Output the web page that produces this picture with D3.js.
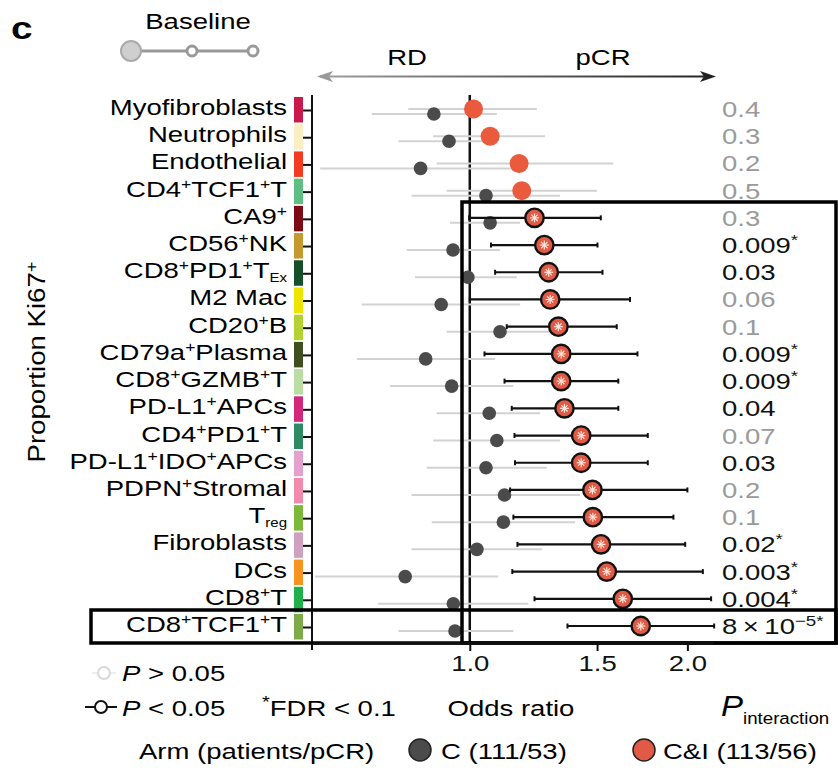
<!DOCTYPE html>
<html>
<head>
<meta charset="utf-8">
<script src="https://cdnjs.cloudflare.com/ajax/libs/d3/7.8.5/d3.min.js"></script>
<style>
  body { margin: 0; background: #fff; }
  svg { font-family: "Liberation Sans", Arial, Helvetica, sans-serif; }
</style>
</head>
<body>
<div class="chart_frame"></div>
<script>
// cell types, top to bottom (^{..} superscript, _{..} subscript)
var cellTypes = ["Myofibroblasts", "Neutrophils", "Endothelial", "CD4^{+}TCF1^{+}T", "CA9^{+}",
    "CD56^{+}NK", "CD8^{+}PD1^{+}T_{Ex}", "M2 Mac", "CD20^{+}B", "CD79a^{+}Plasma",
    "CD8^{+}GZMB^{+}T", "PD-L1^{+}APCs", "CD4^{+}PD1^{+}T", "PD-L1^{+}IDO^{+}APCs", "PDPN^{+}Stromal",
    "T_{reg}", "Fibroblasts", "DCs", "CD8^{+}T", "CD8^{+}TCF1^{+}T"];

var cellColors = ["#c81a4c", "#fbeec4", "#f23b20", "#5fbf82", "#7d0b16",
    "#c4992e", "#15502b", "#efe300", "#b4d232", "#3f4f1f",
    "#bbdca2", "#d2287b", "#2d8a64", "#e2a2cd", "#f08bae",
    "#7db83b", "#cfa1c1", "#f7931f", "#1fb04b", "#7eaa49"];

// C&I arm odds ratios with 95% CI
var ciOR   = [1.012, 1.067, 1.170, 1.180, 1.229, 1.268, 1.286, 1.292, 1.326, 1.338,
              1.338, 1.352, 1.426, 1.426, 1.478, 1.480, 1.519, 1.547, 1.628, 1.724];
var ciLow  = [0.822, 0.890, 0.900, 0.929, 0.998, 1.070, 1.084, 1.000, 1.125, 1.048,
              1.117, 1.143, 1.153, 1.155, 1.137, 1.149, 1.164, 1.145, 1.229, 1.365];
var ciHigh = [1.238, 1.271, 1.580, 1.499, 1.518, 1.502, 1.526, 1.666, 1.597, 1.706,
              1.605, 1.605, 1.763, 1.763, 2.000, 1.913, 1.986, 2.101, 2.157, 2.178];
var ciSig  = [false, false, false, false, true, true, true, true, true, true,
              true, true, true, true, true, true, true, true, true, true];

// C arm odds ratios with 95% CI
var cOR   = [0.892, 0.936, 0.855, 1.053, 1.067, 0.948, 0.994, 0.913, 1.101, 0.869,
             0.944, 1.064, 1.090, 1.053, 1.117, 1.113, 1.023, 0.814, 0.949, 0.954];
var cLow  = [0.732, 0.797, 0.621, 0.831, 0.939, 0.818, 0.840, 0.709, 0.929, 0.698,
             0.776, 0.900, 0.890, 0.872, 0.831, 0.886, 0.831, 0.611, 0.747, 0.797];
var cHigh = [1.090, 1.087, 1.148, 1.333, 1.174, 1.101, 1.162, 1.174, 1.290, 1.084,
             1.149, 1.251, 1.333, 1.278, 1.421, 1.399, 1.258, 1.095, 1.205, 1.149];

// interaction p values
var pValues = [0.4, 0.3, 0.2, 0.5, 0.3, 0.009, 0.03, 0.06, 0.1, 0.009,
               0.009, 0.04, 0.07, 0.03, 0.2, 0.1, 0.02, 0.003, 0.004, 0.00008];
var pText   = ["0.4", "0.3", "0.2", "0.5", "0.3", "0.009^{*}", "0.03", "0.06", "0.1", "0.009^{*}",
               "0.009^{*}", "0.04", "0.07", "0.03", "0.2", "0.1", "0.02^{*}", "0.003^{*}", "0.004^{*}", "8\u2009\u00d7\u200910^{\u22125*}"];

var xTicks = [1, 1.5, 2];

var SX = 1.25, FS = 22;
var red = "#e05a45", redLight = "#ea5a3d", dark = "#4b4b4b";

var svg = d3.select('.chart_frame').append('svg')
    .attr('width', 838)
    .attr('height', 770);

var x = d3.scaleLog().domain([0.605, 2.17]).range([312, 713]);
var y = d3.scalePoint().domain(d3.range(cellTypes.length)).range([110, 627]);

// text with a wide, Helvetica-like look
function addText(parent, tx, ty, anchor, size, sx) {
    return parent.append('text')
        .attr('transform', 'translate(' + tx + ',' + ty + ') scale(' + (sx || SX) + ',1)')
        .attr('text-anchor', anchor || 'start')
        .attr('font-size', size || FS);
}

function richText(t, str, size, small) {
    var re = /(\^|_)\{([^}]*)\}|([^^_]+)/g, m, off = 0;
    small = small || 14;
    while ((m = re.exec(str)) !== null) {
        var target = 0, fs = size, s = m[3];
        if (m[1] === '^') { target = -8; fs = small; s = m[2]; }
        if (m[1] === '_') { target = 4; fs = 12; s = m[2]; }
        t.append('tspan').attr('dy', target - off).attr('font-size', fs).text(s);
        off = target;
    }
    return t;
}

// panel letter and baseline legend
addText(svg, 11, 39, 'start', 31).attr('font-weight', 'bold').text('c');
addText(svg, 198, 29, 'middle').text('Baseline');
svg.append('line').attr('x1', 131).attr('x2', 253).attr('y1', 51).attr('y2', 51)
    .attr('stroke', '#999').attr('stroke-width', 3);
svg.append('circle').attr('cx', 131).attr('cy', 51).attr('r', 10)
    .attr('fill', '#cfcfcf').attr('stroke', '#aaa').attr('stroke-width', 2);
[192, 253].forEach(function(cx) {
    svg.append('circle').attr('cx', cx).attr('cy', 51).attr('r', 5)
        .attr('fill', '#fff').attr('stroke', '#999').attr('stroke-width', 3);
});

// RD <-> pCR arrow
var defs = svg.append('defs');
var grad = defs.append('linearGradient').attr('id', 'arrowGrad')
    .attr('gradientUnits', 'userSpaceOnUse').attr('x1', 317).attr('x2', 715).attr('y1', 0).attr('y2', 0);
grad.append('stop').attr('offset', 0).attr('stop-color', '#a0a0a0');
grad.append('stop').attr('offset', 1).attr('stop-color', '#222');
svg.append('line').attr('x1', 320).attr('x2', 712).attr('y1', 76.5).attr('y2', 76.5)
    .attr('stroke', 'url(#arrowGrad)').attr('stroke-width', 2);
svg.append('path').attr('d', 'M317,76.5 L333,71 L329,76.5 L333,82 Z').attr('fill', '#9a9a9a');
svg.append('path').attr('d', 'M716,76.5 L700,71 L704,76.5 L700,82 Z').attr('fill', '#222');
addText(svg, 407, 65, 'middle').text('RD');
addText(svg, 603, 65, 'middle').text('pCR');

// colour strip
svg.append('g').selectAll('rect').data(cellColors).join('rect')
    .attr('x', 294).attr('width', 9)
    .attr('y', function(d, i) { return y(i) - 13; })
    .attr('height', 25.5)
    .attr('fill', function(d) { return d; });

// y axis ticks and spine
var yAxis = svg.append('g').attr('transform', 'translate(312,0)')
    .call(d3.axisLeft(y).tickSize(9).tickFormat(''));
yAxis.select('.domain').remove();
yAxis.selectAll('line').attr('stroke', '#111').attr('stroke-width', 2);
svg.append('line').attr('x1', 312).attr('x2', 312).attr('y1', 95).attr('y2', 650)
    .attr('stroke', '#111').attr('stroke-width', 2);

// row labels
cellTypes.forEach(function(lab, i) {
    richText(addText(svg, 287, y(i) + 5, 'end'), lab, FS);
});

// reference line at OR = 1
svg.append('line').attr('x1', x(1)).attr('x2', x(1)).attr('y1', 95).attr('y2', 643)
    .attr('stroke', '#111').attr('stroke-width', 2.5);

var rows = d3.range(cellTypes.length);

// C arm
svg.append('g').selectAll('line').data(rows).join('line')
    .attr('x1', function(i) { return x(cLow[i]); })
    .attr('x2', function(i) { return x(cHigh[i]); })
    .attr('y1', function(i) { return y(i) + 4; })
    .attr('y2', function(i) { return y(i) + 4; })
    .attr('stroke', '#d2d2d2').attr('stroke-width', 2);
svg.append('g').selectAll('line').data(rows.filter(function(i) { return !ciSig[i]; })).join('line')
    .attr('x1', function(i) { return x(ciLow[i]); })
    .attr('x2', function(i) { return x(ciHigh[i]); })
    .attr('y1', function(i) { return y(i) - 1; })
    .attr('y2', function(i) { return y(i) - 1; })
    .attr('stroke', '#d2d2d2').attr('stroke-width', 2);
svg.append('g').selectAll('circle').data(rows).join('circle')
    .attr('cx', function(i) { return x(cOR[i]); })
    .attr('cy', function(i) { return y(i) + 4; })
    .attr('r', 6.8)
    .attr('fill', dark);

// C&I arm, significant rows with black CI
var sigRows = rows.filter(function(i) { return ciSig[i]; });
var sigG = svg.append('g');
sigG.selectAll('line.ci').data(sigRows).join('line').attr('class', 'ci')
    .attr('x1', function(i) { return x(ciLow[i]); })
    .attr('x2', function(i) { return x(ciHigh[i]); })
    .attr('y1', function(i) { return y(i) - 1; })
    .attr('y2', function(i) { return y(i) - 1; })
    .attr('stroke', '#111').attr('stroke-width', 2.2);
[ciLow, ciHigh].forEach(function(arr) {
    sigG.append('g').selectAll('line').data(sigRows).join('line')
        .attr('x1', function(i) { return x(arr[i]); })
        .attr('x2', function(i) { return x(arr[i]); })
        .attr('y1', function(i) { return y(i) - 3.5; })
        .attr('y2', function(i) { return y(i) + 1.5; })
        .attr('stroke', '#111').attr('stroke-width', 2);
});

svg.append('g').selectAll('circle').data(rows.filter(function(i) { return !ciSig[i]; })).join('circle')
    .attr('cx', function(i) { return x(ciOR[i]); })
    .attr('cy', function(i) { return y(i) - 1; })
    .attr('r', 9.5)
    .attr('fill', redLight);

var dots = svg.append('g').selectAll('g').data(sigRows).join('g')
    .attr('transform', function(i) { return 'translate(' + x(ciOR[i]) + ',' + (y(i) - 1) + ')'; });
dots.append('circle').attr('r', 9.2)
    .attr('fill', red).attr('stroke', '#111').attr('stroke-width', 2.4);
[0, 45, 90, 135].forEach(function(a) {
    dots.append('line').attr('x1', -4.5).attr('x2', 4.5)
        .attr('transform', 'rotate(' + a + ')')
        .attr('stroke', '#ffe6da').attr('stroke-width', 1.2);
});

// interaction p values
pText.forEach(function(s, i) {
    var t = addText(svg, 722, y(i) + 7, 'start')
        .attr('fill', pValues[i] < 0.05 ? '#111' : '#9a9a9a');
    richText(t, s, FS, 15);
});

// highlight boxes
svg.append('rect').attr('x', 462).attr('y', 202).attr('width', 374).attr('height', 441)
    .attr('fill', 'none').attr('stroke', '#000').attr('stroke-width', 3.5);
svg.append('rect').attr('x', 91).attr('y', 610).attr('width', 745).attr('height', 33)
    .attr('fill', 'none').attr('stroke', '#000').attr('stroke-width', 3.5);

// x axis
var xAxis = svg.append('g').attr('transform', 'translate(0,643)')
    .call(d3.axisBottom(x).tickValues(xTicks).tickFormat(d3.format('.1f')).tickSize(8).tickSizeOuter(0));
xAxis.select('.domain').attr('stroke', '#111').attr('stroke-width', 2.5);
xAxis.selectAll('.tick line').attr('stroke', '#111').attr('stroke-width', 2);
xAxis.selectAll('.tick text')
    .attr('font-size', FS).attr('fill', '#111')
    .attr('font-family', '"Liberation Sans", Arial, sans-serif')
    .attr('y', 0).attr('dy', null)
    .attr('transform', 'translate(0,28) scale(' + SX + ',1)');

// y title
var yt = svg.append('text')
    .attr('transform', 'translate(45,362) rotate(-90) scale(1.15,1)')
    .attr('text-anchor', 'middle').attr('font-size', 24);
richText(yt, 'Proportion Ki67^{+}', 24, 16);

addText(svg, 511, 716, 'middle').text('Odds ratio');
var pi = addText(svg, 721, 716, 'start', 30, 1.1);
pi.append('tspan').attr('font-style', 'italic').text('P');
pi.append('tspan').attr('font-size', 17).attr('dy', 8).text('interaction');

// significance legend
svg.append('line').attr('x1', 92).attr('x2', 116).attr('y1', 673).attr('y2', 673)
    .attr('stroke', '#eee').attr('stroke-width', 2);
svg.append('circle').attr('cx', 104).attr('cy', 673).attr('r', 6)
    .attr('fill', '#fff').attr('stroke', '#d8d8d8').attr('stroke-width', 2);
var l1 = addText(svg, 122, 681, 'start');
l1.append('tspan').attr('font-style', 'italic').text('P');
l1.append('tspan').text(' > 0.05');

svg.append('line').attr('x1', 85).attr('x2', 117).attr('y1', 707).attr('y2', 707)
    .attr('stroke', '#111').attr('stroke-width', 2);
svg.append('circle').attr('cx', 101).attr('cy', 707).attr('r', 6)
    .attr('fill', '#fff').attr('stroke', '#111').attr('stroke-width', 2);
var l2 = addText(svg, 122, 716, 'start');
l2.append('tspan').attr('font-style', 'italic').text('P');
l2.append('tspan').text(' < 0.05');
richText(addText(svg, 262, 716, 'start'), '^{*}FDR < 0.1', FS, 16);

// arm legend
addText(svg, 139, 759, 'start').text('Arm (patients/pCR)');
svg.append('circle').attr('cx', 420).attr('cy', 750).attr('r', 11)
    .attr('fill', dark).attr('stroke', '#222').attr('stroke-width', 1.5);
addText(svg, 441, 759, 'start').text('C (111/53)');
svg.append('circle').attr('cx', 644).attr('cy', 750).attr('r', 11)
    .attr('fill', red).attr('stroke', '#222').attr('stroke-width', 1.5);
addText(svg, 663, 759, 'start').text('C&I (113/56)');
</script>
</body>
</html>
